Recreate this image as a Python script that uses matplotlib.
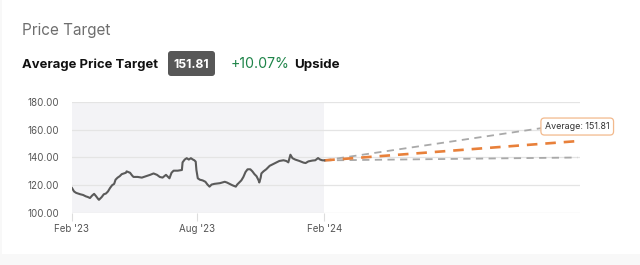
import matplotlib
matplotlib.use("Agg")
import matplotlib.pyplot as plt
import matplotlib.dates as mdates
import matplotlib.patches as mpatches
import matplotlib.transforms as mtrans
import pandas as pd

# --- data ---
price_dates = [
    "2023-02-01", "2023-02-04", "2023-02-07", "2023-02-13", "2023-02-17", "2023-02-21",
    "2023-02-24", "2023-02-27", "2023-03-02", "2023-03-05", "2023-03-08", "2023-03-11",
    "2023-03-12", "2023-03-16", "2023-03-19", "2023-03-22", "2023-03-25", "2023-03-28",
    "2023-03-31", "2023-04-03", "2023-04-05", "2023-04-08", "2023-04-11", "2023-04-14",
    "2023-04-17", "2023-04-20", "2023-04-21", "2023-04-26", "2023-04-29", "2023-05-01",
    "2023-05-07", "2023-05-13", "2023-05-19", "2023-05-25", "2023-05-30", "2023-06-04",
    "2023-06-08", "2023-06-12", "2023-06-17", "2023-06-20", "2023-06-22", "2023-06-25",
    "2023-06-28", "2023-07-04", "2023-07-10", "2023-07-11", "2023-07-14", "2023-07-17",
    "2023-07-20", "2023-07-23", "2023-07-26", "2023-07-28", "2023-07-30", "2023-07-31",
    "2023-08-02", "2023-08-05", "2023-08-09", "2023-08-13", "2023-08-16", "2023-08-19",
    "2023-08-22", "2023-08-26", "2023-09-03", "2023-09-10", "2023-09-13", "2023-09-17",
    "2023-09-21", "2023-09-26", "2023-09-28", "2023-10-01", "2023-10-04", "2023-10-07",
    "2023-10-10", "2023-10-13", "2023-10-17", "2023-10-20", "2023-10-23", "2023-10-26",
    "2023-10-29", "2023-10-30", "2023-11-01", "2023-11-02", "2023-11-05", "2023-11-09",
    "2023-11-14", "2023-11-18", "2023-11-22", "2023-11-28", "2023-12-04", "2023-12-08",
    "2023-12-11", "2023-12-14", "2023-12-17", "2023-12-21", "2023-12-27", "2024-01-02",
    "2024-01-05", "2024-01-09", "2024-01-15", "2024-01-19", "2024-01-23", "2024-01-26",
    "2024-01-29", "2024-02-01",
]
price_values = [
    118.0, 115.5, 114.5, 113.5, 113.0, 112.0,
    111.5, 110.8, 112.5, 113.8, 112.0, 110.0,
    109.5, 111.5, 113.5, 114.0, 115.5, 118.0,
    120.0, 121.0, 124.0, 125.5, 126.5, 128.0,
    128.5, 129.0, 130.0, 129.0, 127.0, 126.0,
    126.0, 125.5, 126.5, 127.5, 128.5, 127.5,
    126.0, 125.5, 127.5, 126.0, 125.0, 129.0,
    130.5, 130.5, 131.0, 136.5, 138.5, 139.5,
    138.5, 139.5, 138.5, 138.0, 137.0, 131.0,
    125.0, 124.0, 123.5, 122.5, 120.5, 119.0,
    120.5, 121.0, 121.5, 122.5, 122.0, 121.0,
    120.0, 119.0, 120.5, 122.0, 123.5, 126.0,
    129.5, 131.5, 131.5, 130.0, 128.0, 126.5,
    123.5, 122.0, 125.5, 128.5, 130.0, 131.5,
    134.0, 135.0, 136.0, 137.5, 138.0, 137.5,
    136.5, 142.0, 139.5, 138.5, 137.5, 136.3,
    136.0, 137.2, 137.8, 138.0, 139.6, 138.5,
    138.0, 137.92,
]

target_date = "2025-02-01"
target_high = 165.0
target_avg = 151.81
target_low = 140.0
upside = "+10.07%"

y_ticks = [100, 120, 140, 160, 180]
x_ticks = ["2023-02-01", "2023-08-01", "2024-02-01"]
x_tick_labels = ["Feb '23", "Aug '23", "Feb '24"]

dates = pd.to_datetime(price_dates)
last_date = dates[-1]
last_price = price_values[-1]
end_date = pd.Timestamp(target_date)

plt.rcParams['font.family'] = ['Inter', 'DejaVu Sans']

fig = plt.figure(figsize=(6.4, 2.65), dpi=100, facecolor='#f8f8f8')
W, H = 640, 265

# white card behind everything
fig.patches.append(mpatches.Rectangle((2 / W, 11 / H), 1, 1, transform=fig.transFigure,
                                      facecolor='white', edgecolor='none', zorder=-10))

# --- header ---
fig.text(22 / W, 1 - 34.5 / H, "Price Target", fontsize=11.0, color='#6e6e6e', va='baseline')
fig.text(22 / W, 1 - 67.5 / H, "Average Price Target", fontsize=9.4, fontweight='bold',
         color='#111111', va='baseline')
badge = mpatches.FancyBboxPatch((168, H - 76), 47, 25, boxstyle='round,pad=0,rounding_size=3',
                                transform=mtrans.IdentityTransform(), facecolor='#575757',
                                edgecolor='none')
fig.patches.append(badge)
fig.text(191.5 / W, 1 - 67.5 / H, f"{target_avg:.2f}", fontsize=8.8, fontweight='bold',
         color='white', ha='center', va='baseline')
fig.text(231 / W, 1 - 67.5 / H, upside, fontsize=10.2, color='#1e8449', va='baseline')
fig.text(294 / W, 1 - 67.5 / H, "Upside", fontsize=9.6, fontweight='bold',
         color='#111111', va='baseline')

# --- chart ---
ax = fig.add_axes([72 / W, 52 / H, 508 / W, 111 / H])
ax.set_facecolor('white')
ax.axvspan(dates[0], last_date, color='#f3f3f6', zorder=0, lw=0)
for t in y_ticks:
    ax.axhline(t, color='#e4e4e4', lw=0.9, zorder=1)

ax.plot(dates, price_values, color='#5a5a5a', lw=1.5, zorder=4, solid_joinstyle='round')

ax.plot([last_date, end_date], [last_price, target_high], color='#a9a9a9', lw=1.3,
        dashes=(4, 3), zorder=3)
ax.plot([last_date, end_date], [last_price, target_low], color='#a9a9a9', lw=1.3,
        dashes=(4, 3), zorder=3)
ax.plot([last_date, end_date], [last_price, target_avg], color='#e8803a', lw=1.9,
        dashes=(4, 3), zorder=3)

# tooltip on the average target
ax.annotate(f"Average: {target_avg:.2f}", xy=(end_date, target_avg),
            xytext=(0, 10.5), textcoords='offset points', ha='center', va='center',
            fontsize=6.4, color='#333333', zorder=6, annotation_clip=False,
            bbox=dict(boxstyle='round,pad=0.45,rounding_size=0.4', facecolor='white',
                      edgecolor='#f2b98c', lw=0.9))
ex, ey = mdates.date2num(end_date), target_avg
tri = [(-4.5, 6.5), (0, 1.0), (4.5, 6.5)]
pts = [mtrans.offset_copy(ax.transData, fig=fig, x=dx, y=dy, units='dots').transform((ex, ey))
       for dx, dy in tri]
poly = mpatches.Polygon(pts, closed=True, transform=mtrans.IdentityTransform(),
                        facecolor='white', edgecolor='none', zorder=7, clip_on=False)
ax.add_artist(poly)
ax.add_line(plt.Line2D([p[0] for p in pts], [p[1] for p in pts], transform=mtrans.IdentityTransform(),
                       color='#f2b98c', lw=0.9, zorder=8, clip_on=False))

ax.set_ylim(100, 180)
ax.set_xlim(dates[0], pd.Timestamp("2025-02-05"))
ax.set_yticks(y_ticks)
ax.set_yticklabels([f"{t:.2f}" for t in y_ticks])
ax.set_xticks(pd.to_datetime(x_ticks))
ax.set_xticklabels(x_tick_labels)
ax.tick_params(axis='y', length=0, pad=9, labelsize=7, labelcolor='#555555')
ax.tick_params(axis='x', length=5.5, width=0.8, color='#dddddd', pad=2.5,
               labelsize=7, labelcolor='#555555')
for s in ax.spines.values():
    s.set_visible(False)

fig.savefig("out.png", dpi=100, facecolor=fig.get_facecolor())
